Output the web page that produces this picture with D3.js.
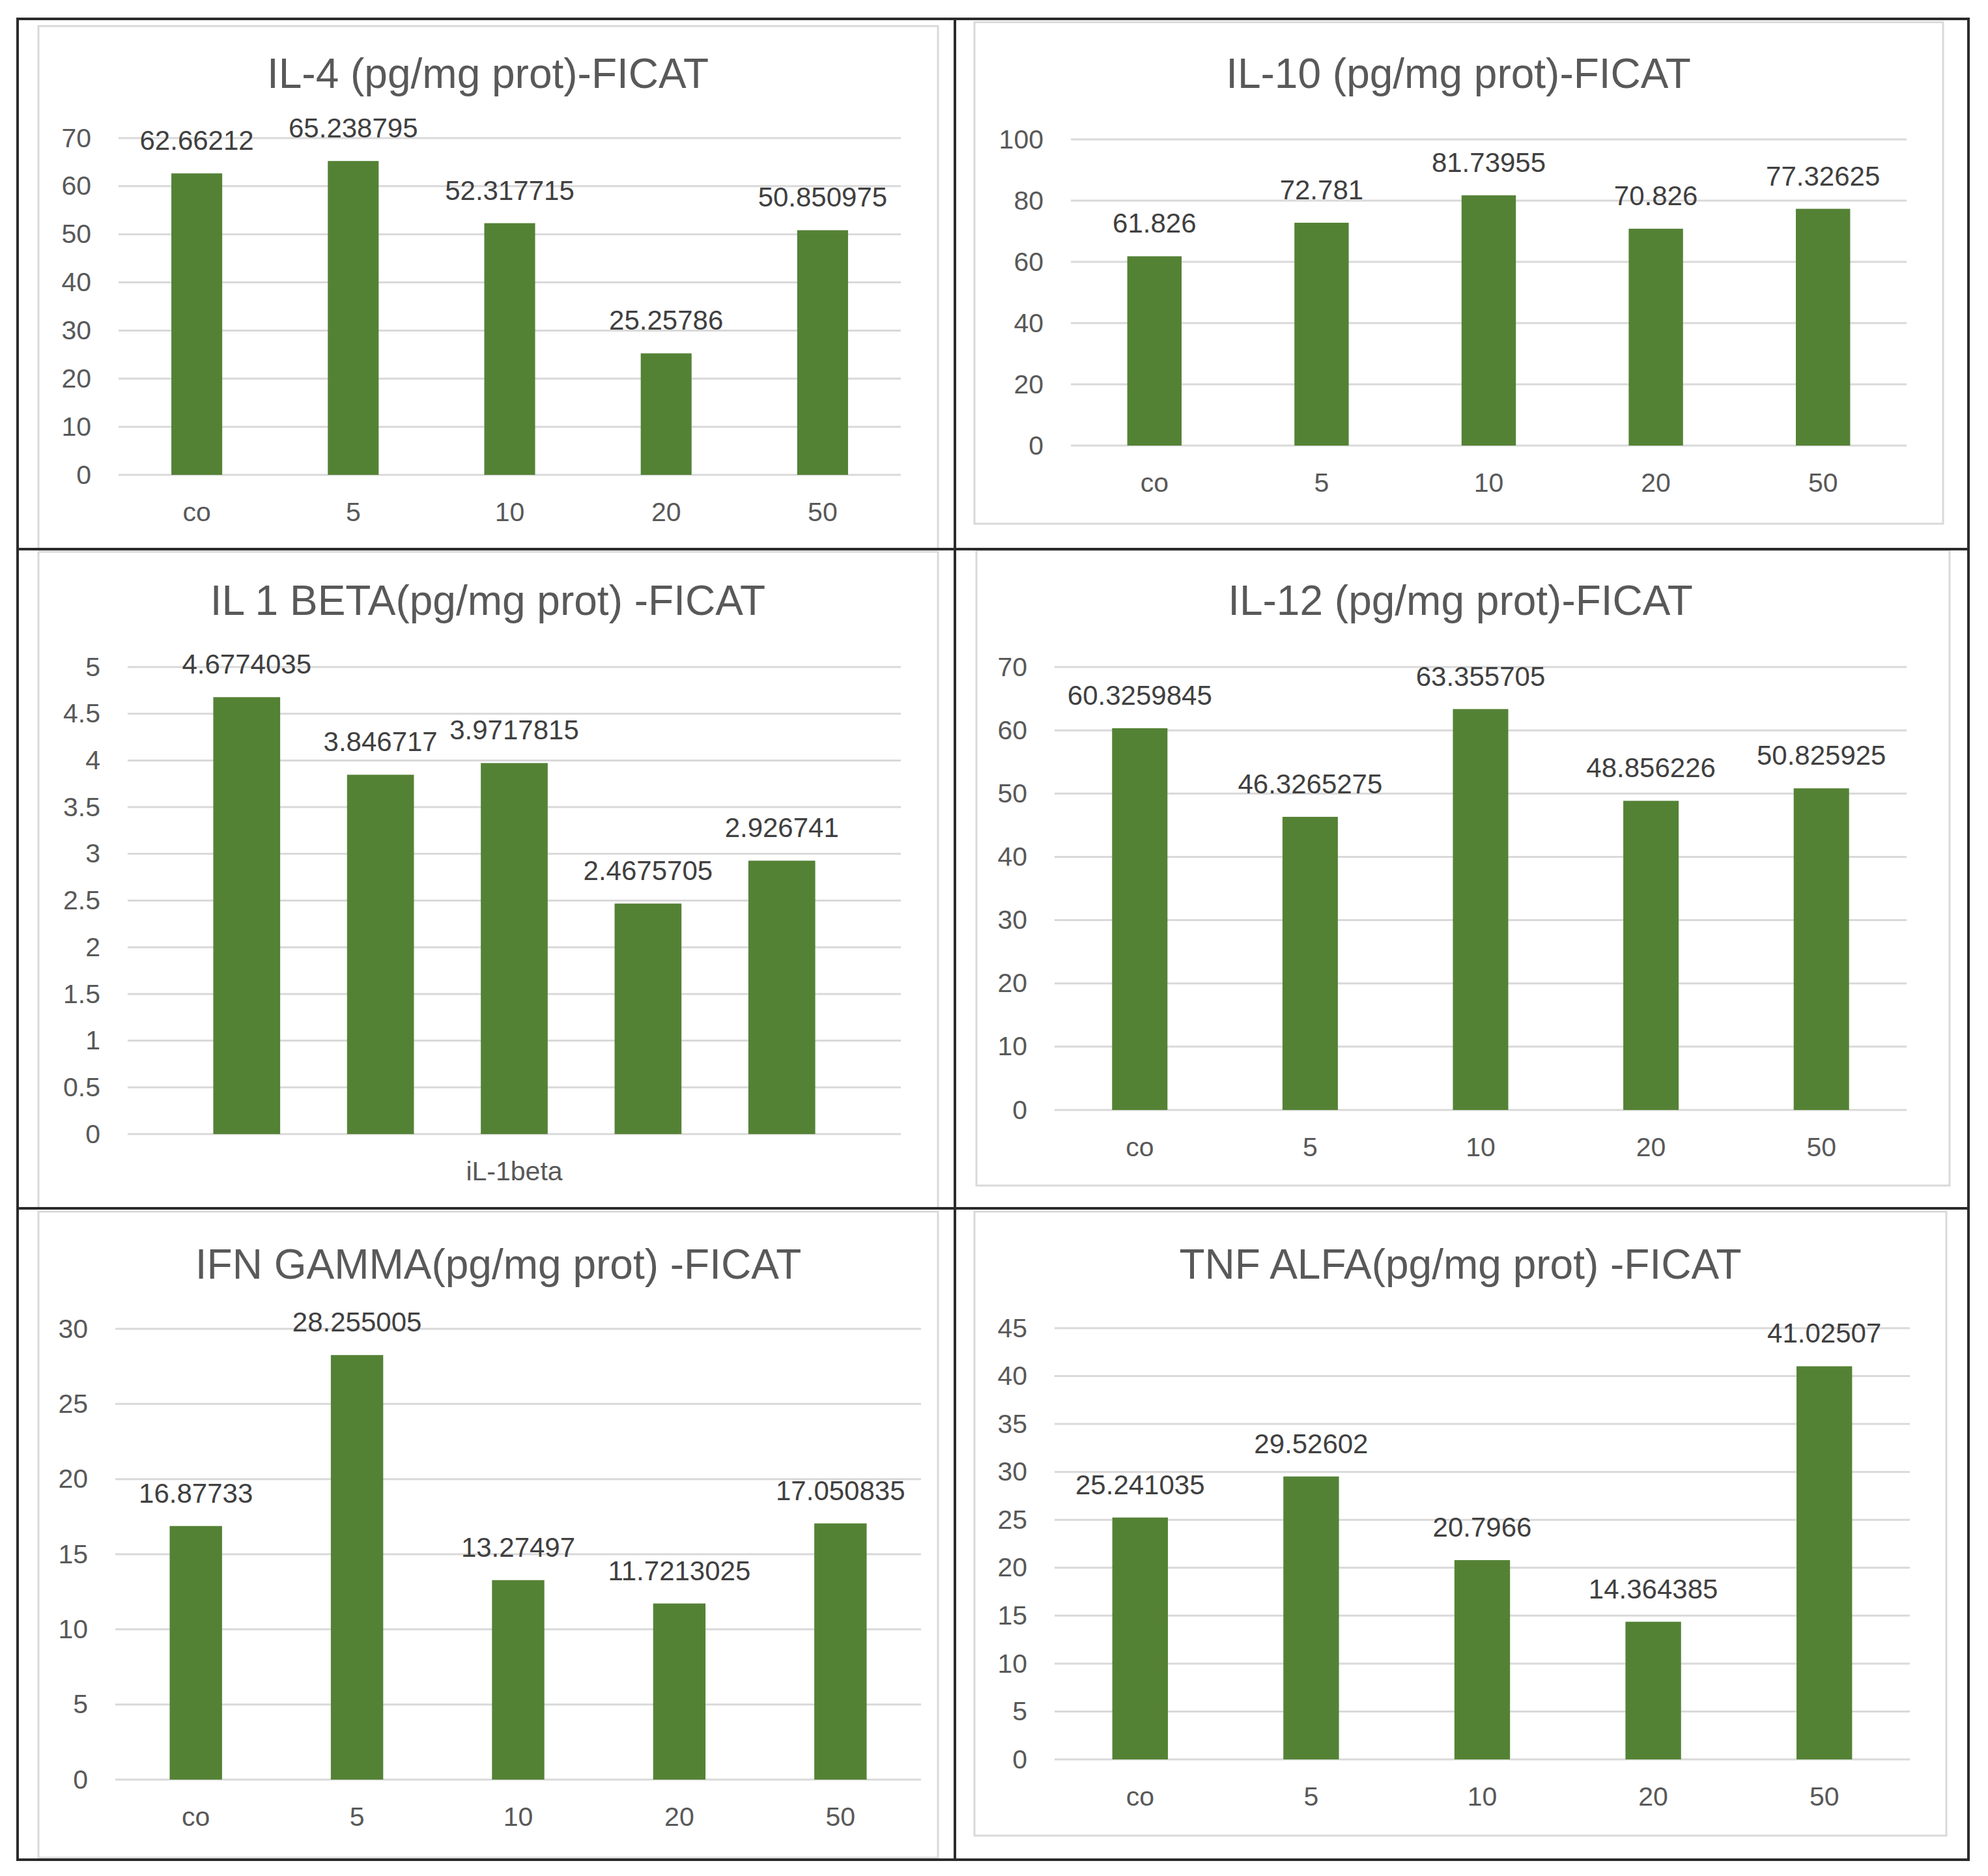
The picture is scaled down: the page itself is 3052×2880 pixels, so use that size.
<!DOCTYPE html>
<html>
<head>
<meta charset="utf-8">
<script src="https://cdn.jsdelivr.net/npm/d3@7"></script>
<style>
  body { margin: 0; background: #fff; }
  svg { display: block; font-family: "Liberation Sans", Arial, sans-serif; }
  .title { font-size: 64px; fill: #595959; text-anchor: middle; }
  .tick text { font-size: 41px; fill: #595959; }
  .grid line { stroke: #d9d9d9; stroke-width: 3; }
  .bar { fill: #548235; }
  .value { font-size: 42px; fill: #404040; text-anchor: middle; }
  .chart-area { fill: none; stroke: #d9d9d9; stroke-width: 3; }
  .frame { fill: none; stroke: #2b2b2b; stroke-width: 4; }
</style>
</head>
<body>
<svg width="3052" height="2880"></svg>
<script>
const w = 3052, h = 2880;

// data
const categories = ["co", "5", "10", "20", "50"];
const il1Category = "iL-1beta";

const il4      = [62.66212, 65.238795, 52.317715, 25.25786, 50.850975];
const il10     = [61.826, 72.781, 81.73955, 70.826, 77.32625];
const il1beta  = [4.6774035, 3.846717, 3.9717815, 2.4675705, 2.926741];
const il12     = [60.3259845, 46.3265275, 63.355705, 48.856226, 50.825925];
const ifnGamma = [16.87733, 28.255005, 13.27497, 11.7213025, 17.050835];
const tnfAlfa  = [25.241035, 29.52602, 20.7966, 14.364385, 41.02507];

const il4Ticks  = [0, 10, 20, 30, 40, 50, 60, 70];
const il10Ticks = [0, 20, 40, 60, 80, 100];
const il1Ticks  = [0, 0.5, 1, 1.5, 2, 2.5, 3, 3.5, 4, 4.5, 5];
const il12Ticks = [0, 10, 20, 30, 40, 50, 60, 70];
const ifnTicks  = [0, 5, 10, 15, 20, 25, 30];
const tnfTicks  = [0, 5, 10, 15, 20, 25, 30, 35, 40, 45];

const titles = [
    "IL-4 (pg/mg prot)-FICAT",
    "IL-10 (pg/mg prot)-FICAT",
    "IL 1 BETA(pg/mg prot) -FICAT",
    "IL-12 (pg/mg prot)-FICAT",
    "IFN GAMMA(pg/mg prot) -FICAT",
    "TNF ALFA(pg/mg prot) -FICAT"
];

// layout: box = chart area, plot = [left, right, y of 0, y of top tick], tx/ty = title
const panels = [
    {title: titles[0], values: il4,      ticks: il4Ticks,  box: [59, 40, 1440, 843],     plot: [182, 1383, 729, 212],    tx: 749,  ty: 135},
    {title: titles[1], values: il10,     ticks: il10Ticks, box: [1496, 34, 2983, 804],   plot: [1644, 2927, 684, 214],   tx: 2239, ty: 135},
    {title: titles[2], values: il1beta,  ticks: il1Ticks,  box: [59, 847, 1440, 1855],   plot: [196, 1383, 1741, 1024],  tx: 749,  ty: 944, single: true},
    {title: titles[3], values: il12,     ticks: il12Ticks, box: [1499, 845, 2993, 1820], plot: [1619, 2927, 1704, 1024], tx: 2242, ty: 944},
    {title: titles[4], values: ifnGamma, ticks: ifnTicks,  box: [59, 1860, 1440, 2852],  plot: [177, 1414, 2732, 2040],  tx: 765,  ty: 1963},
    {title: titles[5], values: tnfAlfa,  ticks: tnfTicks,  box: [1496, 1860, 2988, 2818], plot: [1619, 2932, 2701, 2039], tx: 2242, ty: 1963}
];

const svg = d3.select("svg");

panels.forEach(drawPanel);
drawFrame();

function drawPanel(p) {
    const [L, R, y0, yTop] = p.plot;
    const g = svg.append("g").attr("class", "panel");

    g.append("rect").attr("class", "chart-area")
            .attr("x", p.box[0]).attr("y", p.box[1])
            .attr("width", p.box[2] - p.box[0])
            .attr("height", p.box[3] - p.box[1]);

    g.append("text").attr("class", "title")
            .attr("x", p.tx).attr("y", p.ty)
            .text(p.title);

    const scaleY = d3.scaleLinear()
            .domain([0, d3.max(p.ticks)])
            .range([y0, yTop]);

    // gridlines
    g.append("g").attr("class", "grid")
            .selectAll("line")
            .data(p.ticks)
            .join("line")
            .attr("x1", L).attr("x2", R)
            .attr("y1", d => scaleY(d)).attr("y2", d => scaleY(d));

    const axisY = d3.axisLeft(scaleY)
            .tickValues(p.ticks)
            .tickFormat(d => d)
            .tickSize(0)
            .tickPadding(42);
    const yG = g.append("g").attr("class", "y-axis")
            .attr("transform", `translate(${[L, 0]})`)
            .call(axisY);
    yG.select(".domain").remove();

    // category scale; the IL-1 beta chart has one category with five series
    let scaleX, xPos, bw;
    if (p.single) {
        scaleX = d3.scaleBand().domain([il1Category]).range([L, R]);
        const inner = d3.scaleBand().domain(categories)
                .range([0, scaleX.bandwidth()])
                .paddingInner(0.5)
                .paddingOuter(0.64);
        xPos = (d, i) => scaleX(il1Category) + inner(categories[i]);
        bw = inner.bandwidth();
    } else {
        scaleX = d3.scaleBand().domain(categories).range([L, R])
                .paddingInner(0.675)
                .paddingOuter(0.3375);
        xPos = (d, i) => scaleX(categories[i]);
        bw = scaleX.bandwidth();
    }

    const axisX = d3.axisBottom(scaleX).tickSize(0).tickPadding(42);
    const xG = g.append("g").attr("class", "x-axis")
            .attr("transform", `translate(${[0, y0]})`)
            .call(axisX);
    xG.select(".domain").remove();

    g.selectAll("rect.bar")
            .data(p.values)
            .join("rect").attr("class", "bar")
            .attr("x", xPos)
            .attr("width", bw)
            .attr("y", d => scaleY(d))
            .attr("height", d => y0 - scaleY(d));

    g.selectAll("text.value")
            .data(p.values)
            .join("text").attr("class", "value")
            .attr("x", (d, i) => xPos(d, i) + bw / 2)
            .attr("y", d => scaleY(d) - 36)
            .text(d => String(d));
}

function drawFrame() {
    const f = svg.append("g").attr("class", "frames");
    f.append("rect").attr("class", "frame")
            .attr("x", 27).attr("y", 29)
            .attr("width", 3022 - 27).attr("height", 2855 - 29);
    f.append("line").attr("class", "frame")
            .attr("x1", 1466).attr("x2", 1466).attr("y1", 29).attr("y2", 2855);
    f.append("line").attr("class", "frame")
            .attr("x1", 27).attr("x2", 3022).attr("y1", 843).attr("y2", 843);
    f.append("line").attr("class", "frame")
            .attr("x1", 27).attr("x2", 3022).attr("y1", 1855).attr("y2", 1855);
}
</script>
</body>
</html>
